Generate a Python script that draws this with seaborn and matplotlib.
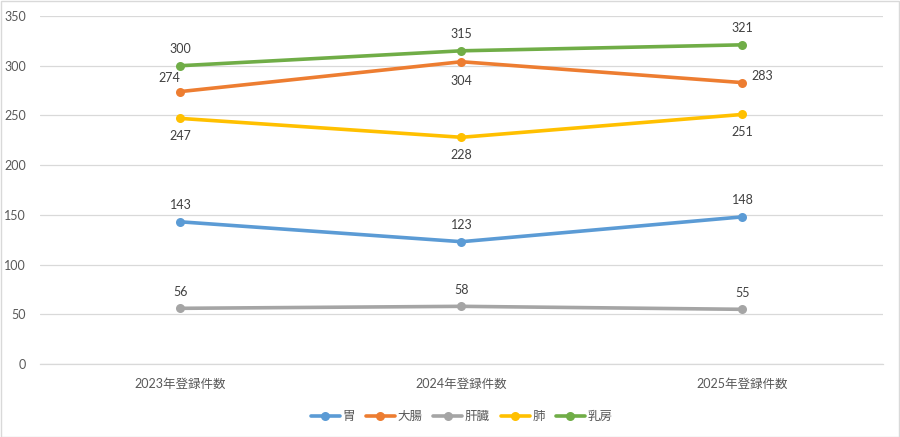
import matplotlib
matplotlib.use("Agg")
import matplotlib.pyplot as plt
import seaborn as sns
import pandas as pd

categories = ["2023年登録件数", "2024年登録件数", "2025年登録件数"]
series_names = ["胃", "大腸", "肝臓", "肺", "乳房"]
v_stomach = [143, 123, 148]
v_colon = [274, 304, 283]
v_liver = [56, 58, 55]
v_lung = [247, 228, 251]
v_breast = [300, 315, 321]
colors = ["#5B9BD5", "#ED7D31", "#A5A5A5", "#FFC000", "#70AD47"]
yticks = [0, 50, 100, 150, 200, 250, 300, 350]

values = [v_stomach, v_colon, v_liver, v_lung, v_breast]
rows = []
for name, vals in zip(series_names, values):
    for i, (c, v) in enumerate(zip(categories, vals)):
        rows.append({"cat": c, "x": i, "series": name, "value": v})
df = pd.DataFrame(rows)

sns.set_theme(style="white")
plt.rcParams["font.family"] = ["Lato", "Noto Sans CJK JP", "DejaVu Sans"]
txt = "#595959"

fig = plt.figure(figsize=(9, 4.37), dpi=100)
fig.patch.set_facecolor("white")
ax = fig.add_axes([40/900, 1-364/437, 843/900, 348/437])

sns.lineplot(data=df, x="x", y="value", hue="series", hue_order=series_names,
             palette=colors, marker="o", markersize=6.5, markeredgewidth=0,
             linewidth=2.6, ax=ax, legend=True)

ax.set_xlim(-0.5, 2.5)
ax.set_ylim(0, 350)
ax.set_yticks(yticks)
ax.set_xticks(range(len(categories)))
ax.set_xticklabels(categories)
ax.tick_params(axis="both", colors=txt, labelsize=9, length=0)
ax.tick_params(axis="x", pad=10)
ax.tick_params(axis="y", pad=10)
ax.set_xlabel("")
ax.set_ylabel("")
ax.grid(axis="y", color="#D9D9D9", linewidth=0.9)
ax.set_axisbelow(True)
for s in ["top", "right", "left"]:
    ax.spines[s].set_visible(False)
ax.spines["bottom"].set_color("#D9D9D9")
ax.spines["bottom"].set_linewidth(0.9)

# data label offsets (points)
offsets = {
    "胃": [(0, 12), (0, 12), (0, 12)],
    "大腸": [(-8, 10), (0, -14), (14, 5)],
    "肝臓": [(0, 12), (0, 12), (0, 12)],
    "肺": [(0, -13), (0, -13), (0, -13)],
    "乳房": [(0, 12), (0, 12), (0, 12)],
}
for name, vals in zip(series_names, values):
    for i, v in enumerate(vals):
        dx, dy = offsets[name][i]
        ax.annotate(str(v), (i, v), xytext=(dx, dy), textcoords="offset points",
                    ha="center", va="center", fontsize=9, color="#404040")

h, l = ax.get_legend_handles_labels()
leg = ax.legend(h, l, loc="upper center", bbox_to_anchor=(0.5, -0.1), ncol=5,
                frameon=False, fontsize=9, handlelength=2.3, columnspacing=0.9,
                handletextpad=0.2, labelcolor=txt)

border = plt.Rectangle((0.001, 0.001), 0.998, 0.997, transform=fig.transFigure,
                       fill=False, edgecolor="#D9D9D9", linewidth=1)
fig.patches.append(border)

fig.savefig("out.png", dpi=100, facecolor="white")
